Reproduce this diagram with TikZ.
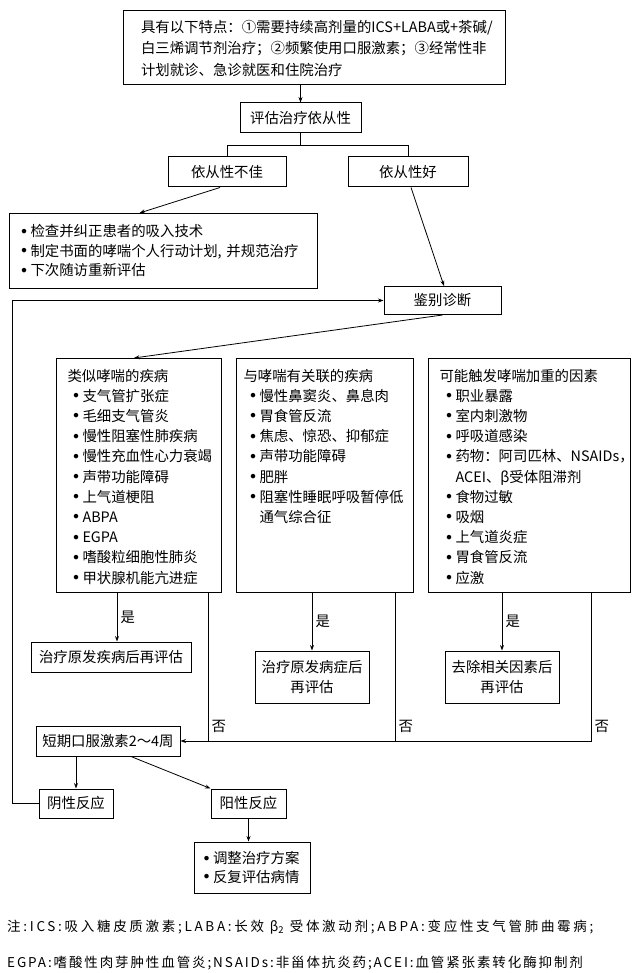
\documentclass[tikz,border=0pt]{standalone}
\usepackage{fontspec}
\setmainfont{Noto Sans CJK SC}
\newfontfamily\notefont{Noto Sans CJK SC}[LetterSpace=20]
\usetikzlibrary{arrows.meta,positioning}

\newcommand{\mainfs}{\fontsize{14.4}{20.2}\selectfont}
\newcommand{\itm}[1][0pt]{\hspace*{#1}\makebox[9pt][l]{\raisebox{3.5pt}{\fontsize{5}{5}\selectfont ●}}}

\begin{document}
\begin{tikzpicture}[x=1pt,y=-1pt,font=\mainfs,>={Stealth[length=5.5pt,width=4pt]},
        box/.style={draw,line width=1pt,inner sep=0pt,align=center},
        listbox/.style={draw,line width=1pt,anchor=north west,align=left,inner ysep=6pt,text height=16.5pt,text depth=205.5pt},
        line/.style={line width=0.8pt}]
        \useasboundingbox (0,0) rectangle (640,973);
        % top
        \node[box,align=left,text width=346pt,inner xsep=18pt,minimum height=74pt,font=\fontsize{14.4}{21.5}\selectfont] (top) at (314,48) {具有以下特点：①需要持续高剂量的ICS+LABA或+茶碱/\\白三烯调节剂治疗；②频繁使用口服激素；③经常性非\\计划就诊、急诊就医和住院治疗};
        \node[box,minimum width=121pt,minimum height=30pt] (assess) at (300.5,118) {评估治疗依从性};
        \node[box,minimum width=118pt,minimum height=30pt] (poor) at (227,172) {依从性不佳};
        \node[box,minimum width=120pt,minimum height=30pt] (good) [right=61pt of poor] {依从性好};
        \node[box,anchor=north west,align=left,text width=284pt,inner xsep=12pt,minimum height=75pt,font=\fontsize{14.4}{19.5}\selectfont] (advice) at (9,213) {\itm 检查并纠正患者的吸入技术\\\itm 制定书面的哮喘个人行动计划, 并规范治疗\\\itm 下次随访重新评估};
        \node[box,minimum width=117pt,minimum height=28pt] (diff) at (442.5,300.5) {鉴别诊断};
        % three columns
        \node[listbox,text width=143pt,inner xsep=11pt] (sim) at (56,358) {类似哮喘的疾病\\\itm[6pt]支气管扩张症\\\itm[6pt]毛细支气管炎\\\itm[6pt]慢性阻塞性肺疾病\\\itm[6pt]慢性充血性心力衰竭\\\itm[6pt]声带功能障碍\\\itm[6pt]上气道梗阻\\\itm[6pt]ABPA\\\itm[6pt]EGPA\\\itm[6pt]嗜酸粒细胞性肺炎\\\itm[6pt]甲状腺机能亢进症};
        \node[listbox,text width=163pt,inner xsep=7pt] (rel) at (236,358) {与哮喘有关联的疾病\\\itm[7pt]慢性鼻窦炎、鼻息肉\\\itm[7pt]胃食管反流\\\itm[7pt]焦虑、惊恐、抑郁症\\\itm[7pt]声带功能障碍\\\itm[7pt]肥胖\\\itm[7pt]阻塞性睡眠呼吸暂停低\\\hspace*{16pt}通气综合征};
        \node[listbox,text width=180pt,inner xsep=11pt] (trig) at (428,358) {可能触发哮喘加重的因素\\\itm[7pt]职业暴露\\\itm[7pt]室内刺激物\\\itm[7pt]呼吸道感染\\\itm[7pt]药物：阿司匹林、NSAIDs，\\\hspace*{16pt}ACEI、β受体阻滞剂\\\itm[7pt]食物过敏\\\itm[7pt]吸烟\\\itm[7pt]上气道炎症\\\itm[7pt]胃食管反流\\\itm[7pt]应激};
        \node[box,minimum width=160pt,minimum height=30pt] (treat_sim) at (111,657) {治疗原发疾病后再评估};
        \node[box,minimum width=114pt,minimum height=52pt,font=\fontsize{14.4}{20}\selectfont] (treat_rel) at (312,677) {治疗原发病症后\\再评估};
        \node[box,minimum width=114pt,minimum height=52pt,font=\fontsize{14.4}{20}\selectfont] (treat_trig) at (502,677) {去除相关因素后\\再评估};
        % bottom
        \node[box,minimum width=144pt,minimum height=30pt] (steroid) at (108,741) {短期口服激素2～4周};
        \node[box,minimum width=74pt,minimum height=29pt] (neg) at (76,803.5) {阴性反应};
        \node[box,minimum width=75pt,minimum height=29pt] (pos) [right=97pt of neg] {阳性反应};
        \node[box,align=left,text width=96pt,inner xsep=10pt,minimum height=51pt,font=\fontsize{14.4}{18.5}\selectfont] (adjust) at (252,867.5) {\itm 调整治疗方案\\\itm 反复评估病情};
        \coordinate (no_sim) at (208,741);
        \coordinate (no_rel) at (395,741);
        \coordinate (no_trig) at (591,741);
        % connectors
        \draw[line,->] (assess.north |- top.south) -- (assess.north);
        \draw[line] (assess.south) -- ++(0,12) -| (poor.north);
        \draw[line] (assess.south) -- ++(0,12) -| (good.north);
        \draw[line,->] ([xshift=-7pt]poor.south) -- ([xshift=-24pt]advice.north);
        \draw[line,->] ([xshift=3pt]good.south) -- ([xshift=1.5pt]diff.north);
        \draw[line,->] (diff.south) -- ([xshift=-5pt]sim.north);
        \draw[line,->] (neg.west) -- ++(-26,0) |- (diff.west);
        \path[line,->]
        ([xshift=6pt]treat_sim.north |- sim.south) edge node[right] (yes_sim) {是} ([xshift=6pt]treat_sim.north)
        (treat_rel.north |- rel.south) edge node[right] (yes_rel) {是} (treat_rel.north)
        (treat_trig.north |- trig.south) edge node[right] (yes_trig) {是} (treat_trig.north);
        \draw[line] (sim.south -| no_sim) -- node[right,pos=0.9] (no_sim_l) {否} (no_sim);
        \draw[line] (rel.south -| no_rel) -- node[right,pos=0.9] (no_rel_l) {否} (no_rel);
        \draw[line,->] (trig.south -| no_trig) -- node[right,pos=0.9] (no_trig_l) {否} (no_trig) -- (steroid.east);
        \draw[line,->] (neg.north |- steroid.south) -- (neg.north);
        \draw[line,->] ([xshift=23pt]steroid.south) -- (pos.north west);
        \draw[line,->] (pos.south) -- (pos.south |- adjust.north);
        % note
        \node[anchor=west,inner sep=0pt,font=\notefont\fontsize{13.5}{16}\selectfont] (note1) at (7,927) {注:ICS:吸入糖皮质激素;LABA:长效 β\textsubscript{2} 受体激动剂;ABPA:变应性支气管肺曲霉病;};
        \node[anchor=west,inner sep=0pt,font=\notefont\addfontfeature{LetterSpace=14}\fontsize{13.5}{16}\selectfont] (note2) at (7,963) {EGPA:嗜酸性肉芽肿性血管炎;NSAIDs:非甾体抗炎药;ACEI:血管紧张素转化酶抑制剂};
\end{tikzpicture}
\end{document}
